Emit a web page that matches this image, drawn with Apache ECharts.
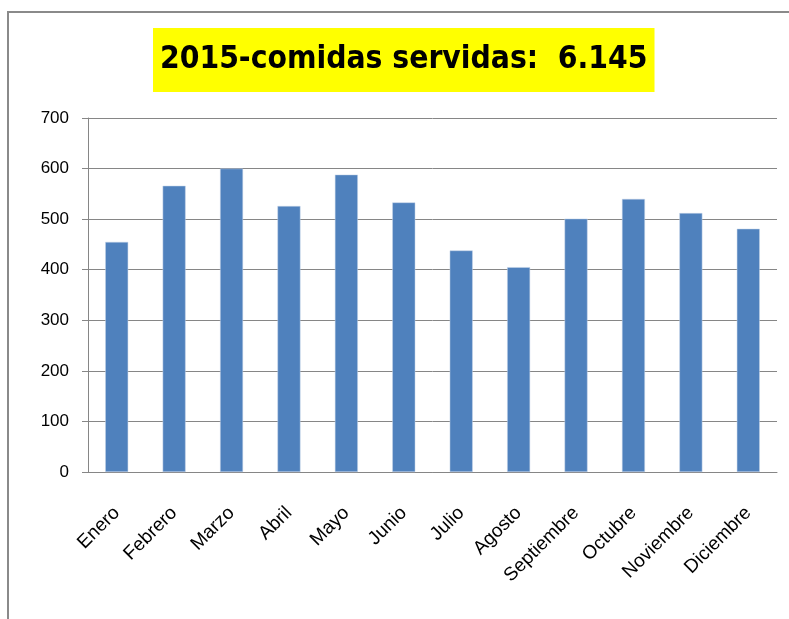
<!DOCTYPE html>
<html>
<head>
<meta charset="utf-8">
<script src="https://cdn.jsdelivr.net/npm/echarts@6/dist/echarts.min.js"></script>
<style>
  html, body { margin: 0; padding: 0; background: #fff; }
  #chart { width: 789px; height: 619px; }
</style>
</head>
<body>
<div id="chart"></div>
<script>
// meses y comidas servidas
const months = ['Enero', 'Febrero', 'Marzo', 'Abril', 'Mayo', 'Junio', 'Julio', 'Agosto', 'Septiembre', 'Octubre', 'Noviembre', 'Diciembre']
const meals = [455, 566, 600, 526, 588, 533, 438, 405, 501, 540, 512, 481]
const yTicks = [0, 100, 200, 300, 400, 500, 600, 700]

const chart = echarts.init(document.getElementById('chart'))
chart.setOption({
  animation: false,
  title: {
    text: '2015-comidas servidas:  6.145',
    left: 153,
    top: 28,
    backgroundColor: '#ffff00',
    padding: [8, 7, 8, 7],
    textStyle: {
      fontFamily: "'Liberation Sans Narrow', 'DejaVu Sans Condensed', 'Liberation Sans', sans-serif",
      fontWeight: 'bold',
      fontSize: 31.5,
      lineHeight: 48,
      color: '#000'
    }
  },
  graphic: [{
    type: 'polyline',
    silent: true,
    shape: { points: [[8, 640], [8, 12], [800, 12]] },
    style: { stroke: '#8a8a8a', lineWidth: 2, fill: null }
  }],
  grid: {
    left: 88,
    right: 12,
    top: 118,
    bottom: 147
  },
  xAxis: {
    type: 'category',
    data: months,
    axisLine: { lineStyle: { color: '#868686' } },
    axisTick: { length: 6, lineStyle: { color: '#868686' } },
    axisLabel: {
      rotate: 45,
      interval: 0,
      margin: 38,
      fontSize: 19,
      color: '#000',
      fontFamily: "'Liberation Sans', sans-serif"
    }
  },
  yAxis: {
    type: 'value',
    min: yTicks[0],
    max: yTicks[yTicks.length - 1],
    interval: 100,
    axisLine: { show: true, lineStyle: { color: '#868686' } },
    axisTick: { show: true, length: 6, lineStyle: { color: '#868686' } },
    splitLine: { lineStyle: { color: '#868686' } },
    axisLabel: {
      margin: 19,
      fontSize: 17,
      color: '#000',
      fontFamily: "'Liberation Sans', sans-serif"
    }
  },
  series: [{
    type: 'bar',
    data: meals,
    barWidth: '40%',
    itemStyle: { color: '#4f81bd', borderColor: '#c6d4e8', borderWidth: 0.5 }
  }]
})
</script>
</body>
</html>
